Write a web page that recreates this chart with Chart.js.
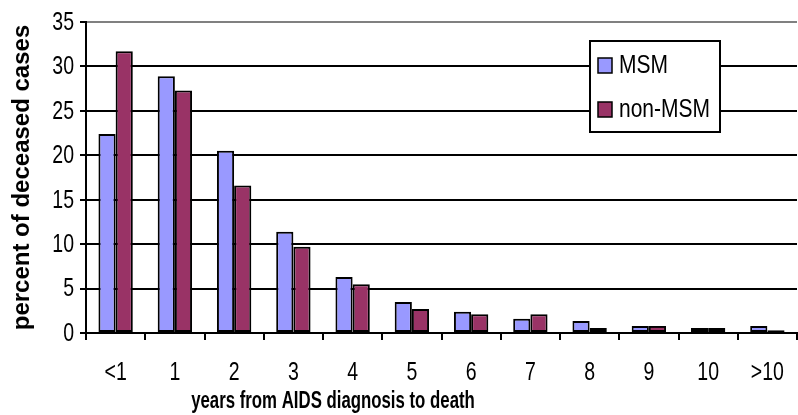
<!DOCTYPE html>
<html>
<head>
<meta charset="utf-8">
<script src="https://cdn.jsdelivr.net/npm/chart.js@4"></script>
<style>
  html, body { margin: 0; padding: 0; background: #fff; }
  canvas { display: block; }
</style>
</head>
<body>
<canvas id="barChart" width="798" height="415"></canvas>
<script>
// years from AIDS diagnosis to death
const categories = ['<1', '1', '2', '3', '4', '5', '6', '7', '8', '9', '10', '>10'];
// percent of deceased cases per group
const msmValues = [22.4, 28.9, 20.5, 11.4, 6.3, 3.5, 2.4, 1.6, 1.35, 0.8, 0.55, 0.8];
const nonMsmValues = [31.7, 27.3, 16.6, 9.7, 5.5, 2.7, 2.1, 2.1, 0.55, 0.8, 0.55, 0.3];
const yTicks = [0, 5, 10, 15, 20, 25, 30, 35];

const sans = '"Liberation Sans", Arial, sans-serif';

// narrow text: the font is squeezed horizontally
function squeezeText(ctx, text, x, y, sx, align) {
    ctx.save();
    ctx.translate(x, y);
    ctx.scale(sx, 1);
    ctx.textAlign = align;
    ctx.fillText(text, 0, 0);
    ctx.restore();
}

// tick labels for both axes, placed from the scales
const narrowTicks = {
    id: 'narrowTicks',
    afterDraw(chart) {
        const ctx = chart.ctx;
        const xs = chart.scales.x, ys = chart.scales.y;
        ctx.save();
        ctx.fillStyle = '#000';
        ctx.font = '25px ' + sans;
        ctx.textBaseline = 'alphabetic';
        chart.data.labels.forEach((lab, i) => {
            squeezeText(ctx, lab, xs.getPixelForValue(i), 380, 0.78, 'center');
        });
        ctx.textBaseline = 'middle';
        ys.ticks.forEach((t) => {
            squeezeText(ctx, String(t.value), 74, ys.getPixelForValue(t.value) + 1, 0.78, 'right');
        });
        ctx.restore();
    }
};

// legend box drawn inside the plot area, top right
const boxLegend = {
    id: 'boxLegend',
    afterDraw(chart) {
        const ctx = chart.ctx;
        const x = 590, y = 41, w = 130, h = 91;
        ctx.save();
        ctx.fillStyle = '#fff';
        ctx.fillRect(x, y, w, h);
        ctx.strokeStyle = '#000';
        ctx.lineWidth = 2;
        ctx.strokeRect(x, y, w, h);
        ctx.font = '25px ' + sans;
        ctx.textBaseline = 'alphabetic';
        chart.data.datasets.forEach((ds, i) => {
            const top = 58 + i * 44;
            ctx.fillStyle = ds.backgroundColor;
            ctx.fillRect(598, top, 14, 15);
            ctx.lineWidth = 1.5;
            ctx.strokeRect(598, top, 14, 15);
            ctx.fillStyle = '#000';
            squeezeText(ctx, ds.label, 619, top + 15, 0.84, 'left');
        });
        ctx.restore();
    }
};

// x axis title, set left of the plot centre
const xTitle = {
    id: 'xTitle',
    afterDraw(chart) {
        const ctx = chart.ctx;
        ctx.save();
        ctx.font = 'bold 23px ' + sans;
        ctx.fillStyle = '#000';
        ctx.textBaseline = 'alphabetic';
        squeezeText(ctx, 'years from AIDS diagnosis to death', 333, 408, 0.73, 'center');
        ctx.restore();
    }
};

new Chart(document.getElementById('barChart'), {
    type: 'bar',
    data: {
        labels: categories,
        datasets: [
            {
                label: 'MSM',
                data: msmValues,
                backgroundColor: '#9999ff',
                borderColor: '#000',
                borderWidth: 2,
                borderSkipped: false
            },
            {
                label: 'non-MSM',
                data: nonMsmValues,
                backgroundColor: '#993366',
                borderColor: '#000',
                borderWidth: 2,
                borderSkipped: false
            }
        ]
    },
    options: {
        responsive: false,
        animation: false,
        devicePixelRatio: 1,
        layout: { padding: { top: 22, right: 1, bottom: 0, left: 0 } },
        plugins: {
            legend: { display: false },
            tooltip: { enabled: false }
        },
        datasets: {
            bar: { categoryPercentage: 0.58, barPercentage: 1 }
        },
        scales: {
            x: {
                afterFit: (scale) => { scale.height = 82; },
                grid: {
                    offset: true,
                    drawOnChartArea: false,
                    drawTicks: true,
                    tickLength: 7,
                    color: '#000',
                    lineWidth: 2
                },
                border: { color: '#000', width: 2 },
                ticks: { display: false, autoSkip: false }
            },
            y: {
                min: 0,
                max: 35,
                afterFit: (scale) => { scale.width = 86; },
                afterBuildTicks: (scale) => { scale.ticks = yTicks.map(v => ({ value: v })); },
                grid: {
                    color: (c) => (c.tick && c.tick.value === 35 ? '#808080' : '#000'),
                    lineWidth: 2,
                    tickLength: 6,
                    tickColor: '#000'
                },
                border: { color: '#000', width: 2 },
                ticks: { display: false },
                title: {
                    display: true,
                    text: 'percent of deceased cases',
                    color: '#000',
                    font: { family: sans, size: 24, weight: 'bold' },
                    padding: { top: 8, bottom: 0 }
                }
            }
        }
    },
    plugins: [narrowTicks, boxLegend, xTitle]
});
</script>
</body>
</html>
